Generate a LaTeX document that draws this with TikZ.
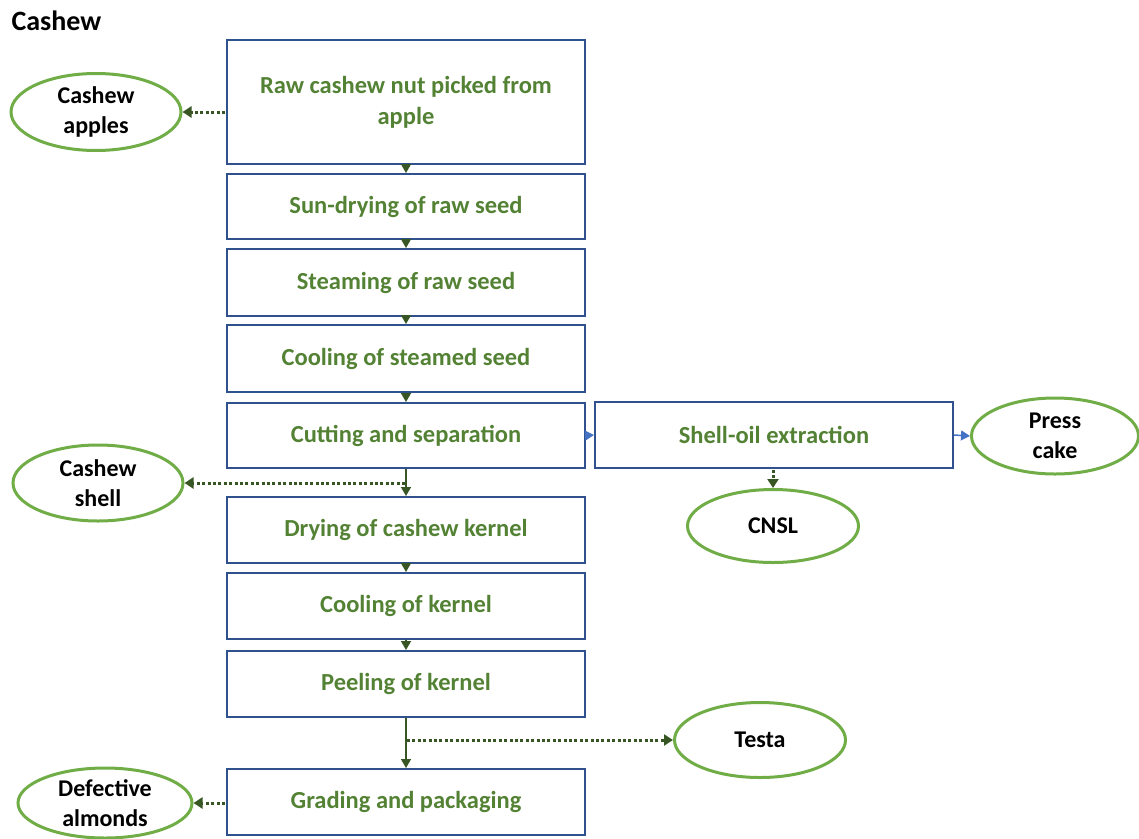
\documentclass[tikz,border=0pt]{standalone}
\usepackage{fontspec}
\setmainfont{Carlito}
\usetikzlibrary{shapes.geometric,arrows.meta}
\definecolor{boxblue}{RGB}{47,82,143}
\definecolor{txtgreen}{RGB}{84,130,53}
\definecolor{ellgreen}{RGB}{112,173,71}
\definecolor{arrgreen}{RGB}{55,86,35}
\definecolor{arrblue}{RGB}{68,114,196}
\tikzset{
  stepbox/.style={draw=boxblue, line width=2pt, minimum width=358pt, inner sep=0pt,
    align=center, text=txtgreen, font=\fontsize{24.5}{31}\selectfont\bfseries},
  product/.style={ellipse, draw=ellgreen, line width=3pt, inner sep=0pt, align=center,
    text=black, font=\fontsize{24}{30}\selectfont\bfseries},
  flow/.style={draw=arrgreen, line width=1.5pt, -{Triangle[length=9pt,width=10pt]}},
  bflow/.style={draw=arrblue, line width=1.5pt, -{Triangle[length=9pt,width=10pt]}},
  side/.style={draw=arrgreen, line width=3pt, dash pattern=on 3pt off 2.4pt,
    -{Triangle[length=9pt,width=11pt]}, shorten <=1pt}
}
\begin{document}
\begin{tikzpicture}[x=1pt,y=-1pt]
\useasboundingbox (0,0) rectangle (1139,838);
\node[anchor=west, font=\fontsize{28}{32}\selectfont\bfseries] (title) at (8,21) {Cashew};
\node[stepbox, minimum height=124pt] (b1) at (406,102) {Raw cashew nut picked from\\apple};
\node[stepbox, minimum height=65pt] (b2) at (406,206.5) {Sun-drying of raw seed};
\node[stepbox, minimum height=67pt] (b3) at (406,282.5) {Steaming of raw seed};
\node[stepbox, minimum height=67pt] (b4) at (406,358.5) {Cooling of steamed seed};
\node[stepbox, minimum height=65pt] (b5) at (406,435.5) {Cutting and separation};
\node[stepbox, minimum height=66pt] (b6) at (406,530) {Drying of cashew kernel};
\node[stepbox, minimum height=66pt] (b7) at (406,606) {Cooling of kernel};
\node[stepbox, minimum height=66pt] (b8) at (406,684) {Peeling of kernel};
\node[stepbox, minimum height=66pt] (b9) at (406,802) {Grading and packaging};
\node[stepbox, minimum height=66pt] (so) at (774,435) {Shell-oil extraction};

\node[product, minimum width=170pt, minimum height=77pt] (apples) at (96,112) {Cashew\\apples};
\node[product, minimum width=170pt, minimum height=76pt] (shell) at (98,483) {Cashew\\shell};
\node[product, minimum width=167pt, minimum height=76pt] (cake) at (1055,436) {Press\\cake};
\node[product, minimum width=171pt, minimum height=73pt] (cnsl) at (773,526) {CNSL};
\node[product, minimum width=171pt, minimum height=75pt] (testa) at (760,740) {Testa};
\node[product, minimum width=174pt, minimum height=70pt] (defect) at (105,803) {Defective\\almonds};

\draw[flow] (b1.south) -- (b2.north);
\draw[flow] (b2.south) -- (b3.north);
\draw[flow] (b3.south) -- (b4.north);
\draw[flow] (b4.south) -- (b5.north);
\draw[flow] (b5.south) -- (b6.north);
\draw[flow] (b6.south) -- (b7.north);
\draw[flow] (b7.south) -- (b8.north);
\draw[flow] (b8.south) -- (b9.north);

\draw[bflow] (b5.east) -- (so.west);
\draw[bflow] (so.east) -- (cake.west);

\coordinate (c1) at (b5.south |- shell.east);
\coordinate (c2) at (b8.south |- testa.west);
\draw[side] (c1) -- (shell.east);
\draw[side] (c2) -- (testa.west);
\draw[side] (b1.west |- apples.east) -- (apples.east);
\draw[side] (b9.west |- defect.east) -- (defect.east);
\draw[side] (so.south -| cnsl.north) -- (cnsl.north);
\end{tikzpicture}
\end{document}
